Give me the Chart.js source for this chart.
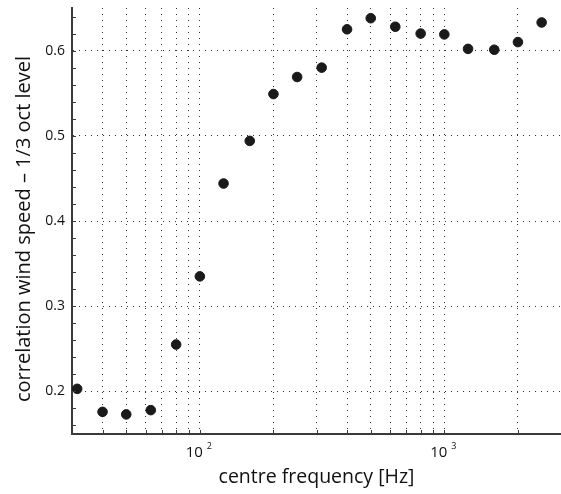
<!DOCTYPE html>
<html>
<head>
<meta charset="utf-8">
<script src="https://cdn.jsdelivr.net/npm/chart.js@4/dist/chart.umd.min.js"></script>
<style>
  html, body { margin: 0; padding: 0; background: #fff; }
  #wrap { width: 561px; height: 494px; }
</style>
</head>
<body>
<div id="wrap"><canvas id="corr"></canvas></div>
<script>
// 1/3 octave centre frequencies [Hz]
var freqs = [31.5, 40, 50, 63, 80, 100, 125, 160, 200, 250, 315, 400, 500, 630, 800, 1000, 1250, 1600, 2000, 2500];
// correlation between wind speed and band level
var corr = [0.203, 0.176, 0.173, 0.178, 0.255, 0.335, 0.444, 0.494, 0.549, 0.569, 0.580, 0.625, 0.638, 0.628, 0.620, 0.619, 0.602, 0.601, 0.610, 0.633];
// grid / tick positions on the frequency axis
var xTickVals = [40, 50, 60, 70, 80, 90, 100, 200, 300, 400, 500, 600, 700, 800, 900, 1000, 2000, 3000];
var xLabelVals = [100, 1000];
var yMajor = [0.2, 0.3, 0.4, 0.5, 0.6];
var yTitle = 'correlation wind speed \u2013 1/3 oct level';

var FONT = 'Open Sans';
var AXIS = '#3a3a3a';
var TEXT = '#111';

function isMajorY(v) {
  return yMajor.some(function (m) { return Math.abs(m - v) < 1e-6; });
}

// small inward tick marks, 10^n labels and the y title (sits a bit below centre)
var axisDecor = {
  id: 'axisDecor',
  afterDraw: function (chart) {
    var c = chart.ctx, x = chart.scales.x, y = chart.scales.y, a = chart.chartArea;
    c.save();
    c.strokeStyle = AXIS;
    c.lineWidth = 1;
    c.beginPath();
    x.ticks.forEach(function (t) {
      var px = Math.round(x.getPixelForValue(t.value)) + 0.5;
      c.moveTo(px, a.bottom);
      c.lineTo(px, a.bottom - 4);
    });
    y.ticks.forEach(function (t) {
      var py = Math.round(y.getPixelForValue(t.value)) + 0.5;
      c.moveTo(a.left, py);
      c.lineTo(a.left + 4, py);
    });
    c.stroke();

    c.fillStyle = TEXT;
    c.textBaseline = 'alphabetic';
    xLabelVals.forEach(function (v) {
      var px = x.getPixelForValue(v);
      var exp = String(Math.round(Math.log10(v)));
      c.font = '15px "' + FONT + '"';
      c.textAlign = 'right';
      c.fillText('10', px + 3, a.bottom + 23);
      c.font = '9px "' + FONT + '"';
      c.textAlign = 'left';
      c.fillText(exp, px + 7, a.bottom + 15);
    });

    c.translate(30, (a.top + a.bottom) / 2 + 8);
    c.rotate(-Math.PI / 2);
    c.font = '20px "' + FONT + '"';
    c.textAlign = 'center';
    c.fillText(yTitle, 0, 0);
    c.restore();
  }
};

var ctx = document.getElementById('corr').getContext('2d');
var chart = new Chart(ctx, {
  type: 'scatter',
  data: {
    datasets: [{
      label: 'correlation',
      data: freqs.map(function (f, i) { return { x: f, y: corr[i] }; }),
      backgroundColor: '#1a1a1a',
      borderColor: '#1a1a1a',
      pointRadius: 4.8,
      pointHoverRadius: 4.8
    }]
  },
  options: {
    responsive: true,
    maintainAspectRatio: false,
    animation: false,
    events: [],
    layout: { autoPadding: false, padding: { top: 8, right: 0, left: 0, bottom: 0 } },
    plugins: {
      legend: { display: false },
      tooltip: { enabled: false }
    },
    scales: {
      x: {
        type: 'logarithmic',
        min: 30,
        max: 3000,
        afterBuildTicks: function (scale) {
          scale.ticks = xTickVals.map(function (v) { return { value: v }; });
        },
        afterFit: function (scale) {
          scale.height = 60;
          scale.paddingLeft = 0;
          scale.paddingRight = 0;
        },
        ticks: {
          autoSkip: false,
          maxRotation: 0,
          callback: function () { return ''; }
        },
        grid: {
          drawTicks: false,
          color: '#333',
          lineWidth: 1
        },
        border: { display: true, color: AXIS, width: 2, dash: [1, 5] },
        title: {
          display: true,
          text: 'centre frequency [Hz]',
          color: TEXT,
          font: { family: FONT, size: 19.5 },
          padding: { top: 0, bottom: 5 }
        }
      },
      y: {
        min: 0.15,
        max: 0.65,
        afterBuildTicks: function (scale) {
          var t = [];
          for (var k = 8; k <= 32; k++) t.push({ value: k / 50 });
          scale.ticks = t;
        },
        afterFit: function (scale) {
          scale.width = 72;
          scale.paddingTop = 0;
          scale.paddingBottom = 0;
        },
        ticks: {
          autoSkip: false,
          padding: 7,
          color: TEXT,
          font: { family: FONT, size: 14 },
          callback: function (v) { return isMajorY(v) ? v.toFixed(1) : ''; }
        },
        grid: {
          drawTicks: false,
          color: function (c) { return c.tick && isMajorY(c.tick.value) ? '#333' : 'rgba(0,0,0,0)'; },
          lineWidth: 1
        },
        border: { display: true, color: AXIS, width: 2, dash: [1, 5] }
      }
    }
  },
  plugins: [axisDecor]
});
</script>
</body>
</html>
